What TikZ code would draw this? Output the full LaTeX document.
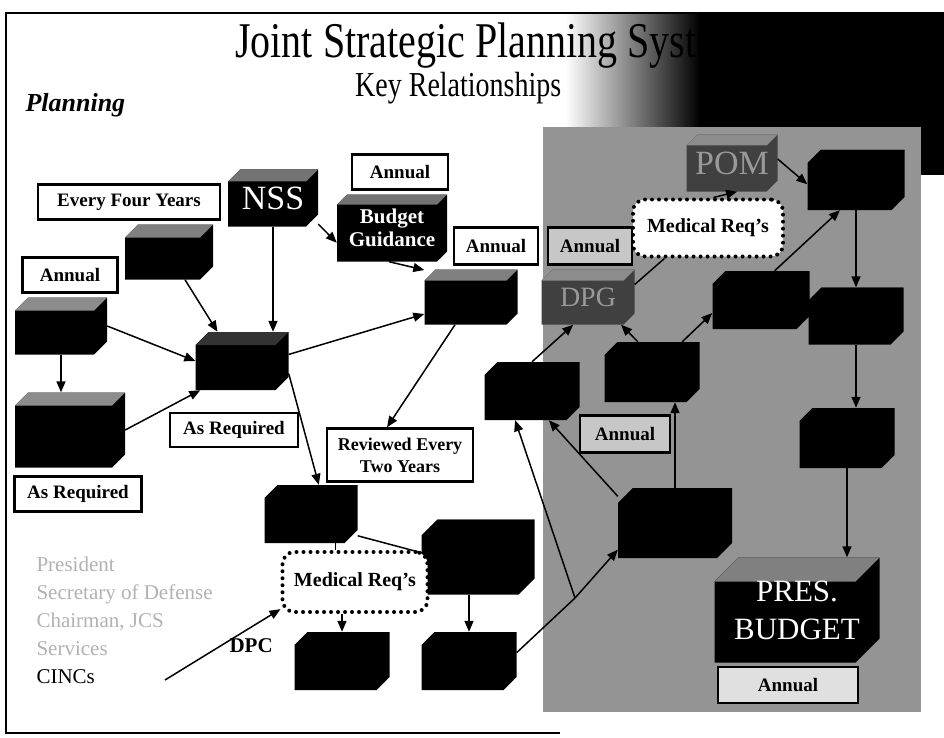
\documentclass[tikz,border=0pt]{standalone}
\usepackage{fontspec}
\setmainfont{Liberation Serif}
\usetikzlibrary{arrows.meta,positioning}

\begin{document}
\begin{tikzpicture}[x=1pt,y=-1pt,
  chamf/.store in=\chamf, chamf=13pt,
  lidcol/.store in=\lidcol, lidcol=black,
  cubecol/.store in=\cubecol, cubecol=black,
  cube/.style={rectangle, inner sep=0pt, text=white, align=center,
    path picture={
      \fill[\cubecol] ([yshift=-\chamf]path picture bounding box.north west)
        -- ([xshift=\chamf]path picture bounding box.north west)
        -- (path picture bounding box.north east)
        -- ([yshift=\chamf]path picture bounding box.south east)
        -- ([xshift=-\chamf]path picture bounding box.south east)
        -- (path picture bounding box.south west) -- cycle;
      \fill[\lidcol] ([yshift=-\chamf]path picture bounding box.north west)
        -- ([xshift=\chamf]path picture bounding box.north west)
        -- (path picture bounding box.north east)
        -- ([xshift=-\chamf,yshift=-\chamf]path picture bounding box.north east) -- cycle;}},
  tag/.style={draw=black, line width=2.5pt, fill=white, inner sep=0pt, align=center,
    font=\fontsize{19}{21}\selectfont\bfseries},
  graytag/.style={tag, fill=black!22},
  medreq/.style={draw=black, line width=4pt, dash pattern=on 0pt off 7pt, line cap=round,
    fill=white, rounded corners=12pt, inner sep=0pt, font=\fontsize{20}{22}\selectfont\bfseries},
  link/.style={line width=1.5pt, -{Triangle[length=11pt,width=9pt]}},
  plain/.style={line width=1.5pt},
  who/.style={anchor=base west, font=\fontsize{21}{23}\selectfont, text=black!30}]

   \useasboundingbox (0,0) rectangle (944,738);
   \fill[white] (0,0) rectangle (944,738);

   % title band and shaded panel
   \shade[left color=white, right color=black] (565,13) rectangle (700,127);
   \fill[black] (699,13) rectangle (944,127);
   \fill[black] (921,127) rectangle (944,175);
   \fill[black!42] (543,127) rectangle (921,712);
   \draw[line width=1.2pt] (560,733) -- (6,733) -- (6,13) -- (944,13);

   \node[anchor=base west, font=\fontsize{50}{50}\selectfont, inner sep=0pt] (title) at (235,58)
     {\scalebox{0.8}[1]{Joint Strategic Planning System}};
   \node[anchor=base west, font=\fontsize{35}{35}\selectfont, inner sep=0pt] (subtitle) at (355,97)
     {\scalebox{0.8}[1]{Key Relationships}};
   \node[anchor=base west, font=\fontsize{26}{26}\selectfont\bfseries\itshape] (planning) at (22,112)
     {Planning};

   % planning boxes
   \node[cube, lidcol=black!45, minimum width=92pt, minimum height=57pt] (jsr) at (61,326) {};
   \node[cube, lidcol=black!45, minimum width=110pt, minimum height=75pt] (jspa) at (70,430) {};
   \node[cube, lidcol=black!50, minimum width=88pt, minimum height=55pt] (nms) at (169,252) {};
   \node[cube, lidcol=black!55, chamf=12pt, minimum width=90pt, minimum height=57pt,
     font=\fontsize{34}{34}\selectfont] (nss) at (273,198) {NSS};
   \node[cube, lidcol=black!80, minimum width=93pt, minimum height=58pt] (hub) at (242,361) {};
   \node[cube, lidcol=black!55, chamf=10pt, minimum width=110pt, minimum height=67pt,
     font=\fontsize{21}{23}\selectfont\bfseries] (guide) at (392,228) {Budget\\Guidance};
   \node[cube, lidcol=black!50, chamf=11pt, minimum width=93pt, minimum height=55pt] (jpd) at (471,297) {};
   \node[cube, cubecol=black!75, lidcol=black!45, chamf=11pt, minimum width=93pt, minimum height=55pt,
     text=black!40, font=\fontsize{28}{28}\selectfont] (dpg) at (588,297) {DPG};
   \node[cube, minimum width=93pt, minimum height=58pt] (cpa) at (311,514) {};
   \node[cube, chamf=16pt, minimum width=113pt, minimum height=75pt] (ipl) at (478,557) {};
   \node[cube, minimum width=95pt, minimum height=58pt] (mreqa) at (342,661) {};
   \node[cube, minimum width=95pt, minimum height=58pt] (mreqb) at (469,661) {};

   % programming and budgeting boxes
   \node[cube, cubecol=black!75, lidcol=black!45, chamf=11pt, minimum width=91pt, minimum height=57pt,
     text=black!40, font=\fontsize{34}{34}\selectfont] (pom) at (732,163) {POM};
   \node[cube, minimum width=97pt, minimum height=60pt] (rone) at (856,180) {};
   \node[cube, minimum width=97pt, minimum height=58pt] (rtwo) at (761,300) {};
   \node[cube, minimum width=95pt, minimum height=57pt] (rthree) at (856,316) {};
   \node[cube, minimum width=95pt, minimum height=60pt] (rfour) at (847,438) {};
   \node[cube, minimum width=95pt, minimum height=60pt] (mone) at (652,372) {};
   \node[cube, minimum width=95pt, minimum height=58pt] (mtwo) at (532,391) {};
   \node[cube, chamf=15pt, minimum width=114pt, minimum height=70pt] (mthree) at (675,523) {};
   \node[cube, lidcol=black!50, chamf=24pt, minimum width=165pt, minimum height=105pt,
     font=\fontsize{31}{38}\selectfont] (pres) at (797,610) {PRES.\\BUDGET};

   % time labels
   \node[tag, minimum width=95pt, minimum height=35pt] (annuala) at (70,275) {Annual};
   \node[tag, minimum width=182pt, minimum height=35pt] (fouryears) at (129,202) {Every Four Years};
   \node[tag, minimum width=127pt, minimum height=35pt] (asreqa) at (78,494) {As Required};
   \node[tag, minimum width=128pt, minimum height=34pt] (asreqb) at (234,430) {As Required};
   \node[tag, minimum width=96pt, minimum height=35pt] (annualb) at (400,172) {Annual};
   \node[tag, minimum width=84pt, minimum height=37pt] (annualc) at (496,246) {Annual};
   \node[graytag, minimum width=84pt, minimum height=37pt] (annuald) at (590,246) {Annual};
   \node[graytag, minimum width=90pt, minimum height=37pt] (annuale) at (625,434) {Annual};
   \node[graytag, minimum width=140pt, minimum height=36pt, fill=black!12] (annualf) at (788,685) {Annual};
   \node[tag, minimum width=146pt, minimum height=53pt, font=\fontsize{18}{22}\selectfont\bfseries]
     (reviewed) at (400,455) {Reviewed Every\\Two Years};

   \node[medreq, minimum width=150pt, minimum height=57pt] (medtop) at (708,228) {Medical Req's};
   \node[medreq, minimum width=145pt, minimum height=60pt] (medlow) at (355,582) {Medical Req's};

   % who takes part
   \node[who] (pres_l) at (33,571) {President};
   \node[who] (secdef) at (33,599) {Secretary of Defense};
   \node[who] (cjcs) at (33,627) {Chairman, JCS};
   \node[who] (services) at (33,655) {Services};
   \node[who, text=black] (cincs) at (33,683) {CINCs};

   \node[anchor=base west, font=\fontsize{21}{23}\selectfont\bfseries] (dpc) at (226,652) {DPC};
   \coordinate (dpcfoot) at (165,680);
   \coordinate (split) at (575,598);

   % connectors
   \draw[link] (jsr.south) -- (jsr.south |- jspa.north);
   \draw[link] (jsr.east) -- (hub.west);
   \draw[link] (jspa.east) -- (hub.215);
   \draw[link] (nms.-60) -- (hub.130);
   \draw[link] (nss.south) -- (nss.south |- hub.north);
   \draw[link] (nss.-30) -- (guide.195);
   \draw[link] (guide.-95) -- (jpd.150);
   \draw[link] (hub.8) -- (jpd.200);
   \draw[link] (jpd.-120) -- (reviewed.115);
   \draw[link] (hub.-15) -- (cpa.75);
   \draw[plain] (cpa.-50) -- (cpa.-50 |- medlow.north);
   \draw[plain] (cpa.-25) -- (medlow.20);
   \draw[link] (medlow.south -| mreqa.north) -- (mreqa.north);
   \draw[link] (ipl.south -| mreqb.north) -- (mreqb.north);
   \draw[link] (dpcfoot) -- (medlow.200);
   \draw[plain] (mreqb.10) -- (split);
   \draw[link] (split) -- (mtwo.-120);
   \draw[link] (split) -- (mthree.205);
   \draw[link] (mthree.155) -- (mtwo.-60);
   \draw[link] (mthree.north) -- (mthree.north |- mone.south);
   \draw[link] (mtwo.north) -- (dpg.-118);
   \draw[link] (mone.115) -- (dpg.-40);
   \draw[link] (mone.45) -- (rtwo.195);
   \draw[plain] (dpg.15) -- (medtop.215);
   \draw[link] (rtwo.65) -- (rone.-118);
   \draw[link] (medtop.80) -- (pom.-80);
   \draw[link] (pom.5) -- (rone.185);
   \draw[link] (rone.south) -- (rone.south |- rthree.north);
   \draw[link] (rthree.south) -- (rthree.south |- rfour.north);
   \draw[link] (rfour.south) -- (rfour.south |- pres.north);

\end{tikzpicture}
\end{document}
